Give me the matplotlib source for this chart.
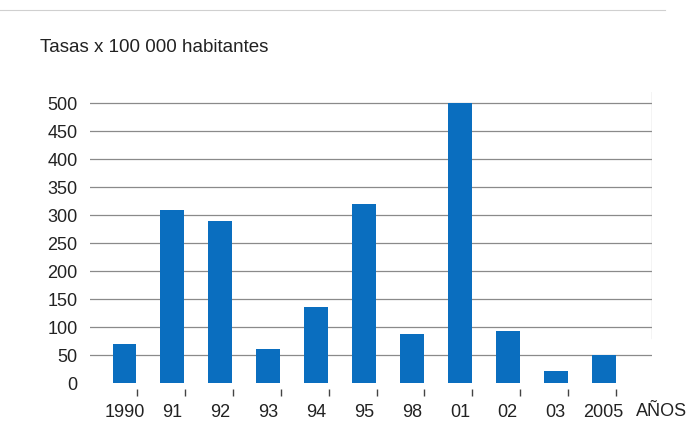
import matplotlib
matplotlib.use("Agg")
import matplotlib.pyplot as plt
import numpy as np

plt.rcParams['font.family'] = ['Liberation Sans', 'DejaVu Sans']

years = ["1990", "91", "92", "93", "94", "95", "98", "01", "02", "03", "2005"]
rates = [70, 310, 290, 60, 135, 320, 87, 500, 93, 22, 50]
yticks = [0, 50, 100, 150, 200, 250, 300, 350, 400, 450, 500]

bar_color = "#0a6ebf"
grid_color = "#8a8a8a"

fig = plt.figure(figsize=(6.91, 4.29), dpi=100)
ax = fig.add_axes([90 / 691, 46 / 429, 562 / 691, 291 / 429])

x = np.arange(len(years))
ax.bar(x, rates, width=0.5, color=bar_color, zorder=3)

ax.set_xlim(-0.72, 11.01)
ax.set_ylim(0, 520)

ax.set_yticks(yticks)
ax.set_yticklabels([str(v) for v in yticks])
ax.yaxis.grid(True, color=grid_color, linewidth=0.9)
ax.yaxis.get_gridlines()[0].set_visible(False)
ax.tick_params(axis="y", length=0, pad=9, labelsize=13, labelcolor="#222222")

# labels under the bars, small ticks at the bar right edges
ax.set_xticks(x)
ax.set_xticklabels(years)
ax.set_xticks(x + 0.26, minor=True)
ax.tick_params(axis="x", which="major", length=0, pad=11, labelsize=13, labelcolor="#222222")
ax.tick_params(axis="x", which="minor", length=5, width=1, color="#444444", direction="out")
ax.spines["bottom"].set_position(("outward", 4))

for s in ["top", "left", "right"]:
    ax.spines[s].set_visible(False)
ax.spines["bottom"].set_visible(False)

ax.axvline(11.01, ymin=80 / 520, ymax=1, color="#a8a8a8", linewidth=0.9)

ax.text(11.2, -51, "AÑOS", ha="center", va="center", fontsize=13,
        color="#222222", clip_on=False)

fig.text(40 / 691, 1 - 47 / 429, "Tasas x 100 000 habitantes", ha="left",
         va="center", fontsize=13.5, color="#222222")
fig.add_artist(plt.Line2D([0, 665 / 691], [1 - 10 / 429, 1 - 10 / 429],
                          color="#d0d0d0", linewidth=0.8))

fig.savefig("out.png", dpi=100)
